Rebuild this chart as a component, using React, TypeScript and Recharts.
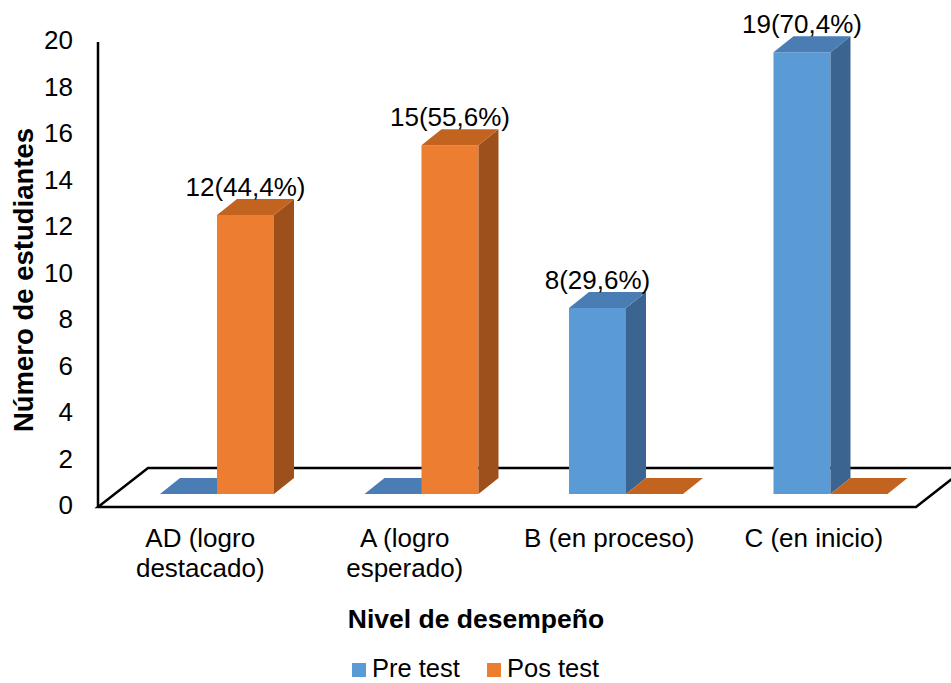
import React from 'react';
import { BarChart, Bar, XAxis, YAxis, LabelList, ReferenceArea } from 'recharts';

const categories = ['AD (logro destacado)', 'A (logro esperado)', 'B (en proceso)', 'C (en inicio)'];
const preTest = [0, 0, 8, 19];
const posTest = [12, 15, 0, 0];
const preLabels = ['', '', '29,6%', '70,4%'];
const posLabels = ['44,4%', '55,6%', '', ''];
const yTicks = [0, 2, 4, 6, 8, 10, 12, 14, 16, 18, 20];
const seriesNames = ['Pre test', 'Pos test'];

const data = categories.map((c, i) => ({ cat: c, pre: preTest[i], pos: posTest[i] }));

const W = 951;
const H = 683;
const FONT = 'Liberation Sans, Arial, sans-serif';
const FS = 26;

// 3D geometry
const FX = 17; // floor front to bar front offset
const FY = 13;
const DX = 50; // floor full depth
const DY = 39;
const BX = 20; // bar depth
const BY = 16;

const COLORS = {
  pre: { front: '#5B9BD5', top: '#4A7DB4', side: '#3B6590' },
  pos: { front: '#ED7D31', top: '#C2631F', side: '#9E501C' },
};

const make3D = (c: { front: string; top: string; side: string }) => (props: any) => {
  const { x, y, width, height } = props;
  if (x == null || y == null) return null;
  const h = Math.max(0, height || 0);
  const top = `${x},${y} ${x + BX},${y - BY} ${x + width + BX},${y - BY} ${x + width},${y}`;
  const side = `${x + width},${y} ${x + width + BX},${y - BY} ${x + width + BX},${y + h - BY} ${x + width},${y + h}`;
  return (
    <g>
      {h > 0 && <rect x={x} y={y} width={width} height={h} fill={c.front} />}
      {h > 0 && <polygon points={side} fill={c.side} />}
      <polygon points={top} fill={c.top} />
    </g>
  );
};

const wrap = (s: string, maxChars: number) => {
  const words = s.split(' ');
  const lines: string[] = [];
  let cur = '';
  words.forEach((w) => {
    const t = cur ? cur + ' ' + w : w;
    if (t.length > maxChars && cur) {
      lines.push(cur);
      cur = w;
    } else cur = t;
  });
  if (cur) lines.push(cur);
  return lines;
};

const XTick = (props: any) => {
  const { x, y, payload } = props;
  const lines = wrap(String(payload.value), 15);
  return (
    <text x={x - FX} y={y + 53} textAnchor="middle" fontFamily={FONT} fontSize={FS} fill="#000">
      {lines.map((l, i) => (
        <tspan key={i} x={x - FX} dy={i === 0 ? 0 : 30}>
          {l}
        </tspan>
      ))}
    </text>
  );
};

const YTick = (props: any) => {
  const { x, y, payload } = props;
  return (
    <text x={x - FX - 25} y={y + 11} dy="0.36em" textAnchor="end" fontFamily={FONT} fontSize={FS} fill="#000">
      {payload.value}
    </text>
  );
};

const Floor = (props: any) => {
  const { x, y, width, height } = props;
  if (x == null) return null;
  const fl = x - FX;
  const fr = x + width - FX;
  const fb = y + height + FY;
  const pts = `${fl},${fb} ${fr},${fb} ${fr + DX},${fb - DY} ${fl + DX},${fb - DY}`;
  return (
    <g>
      <polygon points={pts} fill="none" stroke="#000" strokeWidth={2.5} strokeLinejoin="miter" />
      <line x1={fl} y1={y + FY} x2={fl} y2={fb} stroke="#000" strokeWidth={2.5} />
    </g>
  );
};

const makeLabel = (labels: string[]) => (props: any) => {
  const { x, y, width, value, index } = props;
  if (!value) return null;
  return (
    <text x={x + width / 2} y={y - BY - 3} textAnchor="middle" fontFamily={FONT} fontSize={FS} fill="#000">
      {`${value}(${labels[index]})`}
    </text>
  );
};

export default function App() {
  return (
    <div style={{ position: 'absolute', left: 0, top: 0, width: W, height: H, background: '#fff' }}>
      <BarChart
        width={W}
        height={H}
        data={data}
        margin={{ top: 29, right: 18, bottom: 0, left: 0 }}
        barCategoryGap="22%"
        barGap={0}
      >
        <ReferenceArea y1={0} y2={20} shape={<Floor />} ifOverflow="visible" />
        <XAxis dataKey="cat" axisLine={false} tickLine={false} tickSize={0} tickMargin={0} height={189} tick={<XTick />} interval={0} />
        <YAxis
          domain={[0, 20]}
          ticks={yTicks}
          axisLine={false}
          tickLine={false}
          tickSize={0}
          tickMargin={0}
          width={115}
          tick={<YTick />}
          interval={0}
        />
        <Bar dataKey="pre" name={seriesNames[0]} fill={COLORS.pre.front} isAnimationActive={false} shape={make3D(COLORS.pre)}>
          <LabelList dataKey="pre" content={makeLabel(preLabels)} />
        </Bar>
        <Bar dataKey="pos" name={seriesNames[1]} fill={COLORS.pos.front} isAnimationActive={false} shape={make3D(COLORS.pos)}>
          <LabelList dataKey="pos" content={makeLabel(posLabels)} />
        </Bar>
      </BarChart>
      <svg width={W} height={H} style={{ position: 'absolute', left: 0, top: 0, pointerEvents: 'none' }}>
        <text
          transform="translate(33,280) rotate(-90)"
          textAnchor="middle"
          fontFamily={FONT}
          fontSize={27.5}
          fontWeight="bold"
          fill="#000"
        >
          Número de estudiantes
        </text>
        <text x={476} y={628} textAnchor="middle" fontFamily={FONT} fontSize={26.5} fontWeight="bold" fill="#000">
          Nivel de desempeño
        </text>
        <rect x={352} y={663} width={14} height={14} fill={COLORS.pre.front} />
        <text x={372} y={677} fontFamily={FONT} fontSize={25.5} fill="#000">
          {seriesNames[0]}
        </text>
        <rect x={487} y={663} width={14} height={14} fill={COLORS.pos.front} />
        <text x={507} y={677} fontFamily={FONT} fontSize={25.5} fill="#000">
          {seriesNames[1]}
        </text>
      </svg>
    </div>
  );
}
